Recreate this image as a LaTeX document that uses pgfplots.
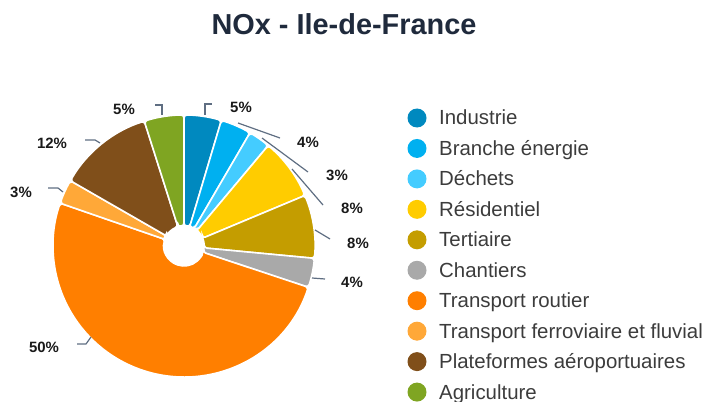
\documentclass[border=0pt]{standalone}
\usepackage{pgfplots}
\pgfplotsset{compat=1.18}
\usepackage{pgfplotstable}
\usepackage{fontspec}
\setmainfont{Liberation Sans}

\definecolor{c0}{RGB}{0,137,191}
\definecolor{c1}{RGB}{0,176,240}
\definecolor{c2}{RGB}{68,204,255}
\definecolor{c3}{RGB}{255,204,0}
\definecolor{c4}{RGB}{196,157,0}
\definecolor{c5}{RGB}{169,169,169}
\definecolor{c6}{RGB}{255,127,0}
\definecolor{c7}{RGB}{255,168,56}
\definecolor{c8}{RGB}{128,79,26}
\definecolor{c9}{RGB}{127,165,34}
\definecolor{titlecol}{RGB}{31,42,60}
\definecolor{legtext}{RGB}{60,60,60}
\definecolor{labtext}{RGB}{25,25,25}
\definecolor{conn}{RGB}{95,110,130}

% value in %, rounded label, label position (px, y downward)
\pgfplotstableread[col sep=comma]{
name,value,pct,lx,ly
Industrie,4.6,5,241,113
Branche énergie,3.8,4,308,147
Déchets,2.7,3,337,180
Résidentiel,7.6,8,352,213
Tertiaire,7.8,8,358,248
Chantiers,3.6,4,352,287
Transport routier,50.2,50,44,352
Transport ferroviaire et fluvial,3.0,3,21,197
Plateformes aéroportuaires,11.8,12,52,148
Agriculture,4.9,5,124,115
}\pietable

\begin{document}
\begin{tikzpicture}
\useasboundingbox (0,0) rectangle (704bp,402bp);
\begin{axis}[
  at={(0,0)}, anchor=south west,
  scale only axis, width=704bp, height=402bp,
  xmin=0, xmax=704, ymin=0, ymax=402, y dir=reverse,
  hide axis, clip=false,
]
\addplot[draw=none, forget plot] coordinates {(0,0) (704,402)};
\pgfplotsextra{
  \pgfplotstablegetrowsof{\pietable}
  \pgfmathtruncatemacro{\nrows}{\pgfplotsretval-1}
  \gdef\cum{0}
  \begin{scope}[shift={(axis cs:184,246)}]
  \foreach \i in {0,...,\nrows}{
    \pgfplotstablegetelem{\i}{value}\of\pietable
    \let\v\pgfplotsretval
    \pgfmathsetmacro{\aone}{90-3.6*\cum}
    \pgfmathsetmacro{\atwo}{90-3.6*(\cum+\v)}
    \filldraw[fill=c\i, draw=white, line width=1.6bp, rounded corners=3bp]
      (\aone:20bp) -- (\aone:131bp)
      arc[start angle=\aone, end angle=\atwo, radius=131bp]
      -- (\atwo:20bp)
      arc[start angle=\atwo, end angle=\aone, radius=20bp] -- cycle;
    \pgfmathsetmacro{\newcum}{\cum+\v}
    \xdef\cum{\newcum}
  }
  \end{scope}
  % data labels
  \foreach \i in {0,...,\nrows}{
    \pgfplotstablegetelem{\i}{pct}\of\pietable
    \let\p\pgfplotsretval
    \pgfplotstablegetelem{\i}{lx}\of\pietable
    \let\lx\pgfplotsretval
    \pgfplotstablegetelem{\i}{ly}\of\pietable
    \let\ly\pgfplotsretval
    \node[anchor=base, inner sep=0pt, text=labtext, font=\bfseries\fontsize{15}{15}\selectfont]
      at (axis cs:\lx,\ly) {\p\%};
  }
  % legend
  \foreach \i in {0,...,\nrows}{
    \pgfplotstablegetelem{\i}{name}\of\pietable
    \let\nm\pgfplotsretval
    \pgfmathsetmacro{\yy}{118+30.45*\i}
    \fill[c\i] (axis cs:417,\yy) circle[radius=9.5bp];
    \pgfmathsetmacro{\yb}{\yy+7}
    \node[anchor=base west, inner sep=0pt, text=legtext, font=\fontsize{20.5}{20.5}\selectfont]
      at (axis cs:439,\yb) {\nm};
  }
}
% connector lines
\draw[conn, line width=1.2bp] (axis cs:205,115) -- (axis cs:205,104) -- (axis cs:212,104);
\draw[conn, line width=1.2bp] (axis cs:238,123) -- (axis cs:280,138);
\draw[conn, line width=1.2bp] (axis cs:262,138) -- (axis cs:308,172);
\draw[conn, line width=1.2bp] (axis cs:292,169) -- (axis cs:323,205);
\draw[conn, line width=1.2bp] (axis cs:315,230) -- (axis cs:330,239);
\draw[conn, line width=1.2bp] (axis cs:312,278) -- (axis cs:325,279);
\draw[conn, line width=1.2bp] (axis cs:91,337) -- (axis cs:86,344) -- (axis cs:77,344);
\draw[conn, line width=1.2bp] (axis cs:63,192) -- (axis cs:58,188) -- (axis cs:48,188);
\draw[conn, line width=1.2bp] (axis cs:100,143) -- (axis cs:95,140) -- (axis cs:85,140);
\draw[conn, line width=1.2bp] (axis cs:162,115) -- (axis cs:162,105) -- (axis cs:155,105);
% title
\node[anchor=base, inner sep=0pt, text=titlecol, font=\bfseries\fontsize{29}{29}\selectfont]
  at (axis cs:344,35) {NOx - Ile-de-France};
\end{axis}
\end{tikzpicture}
\end{document}
